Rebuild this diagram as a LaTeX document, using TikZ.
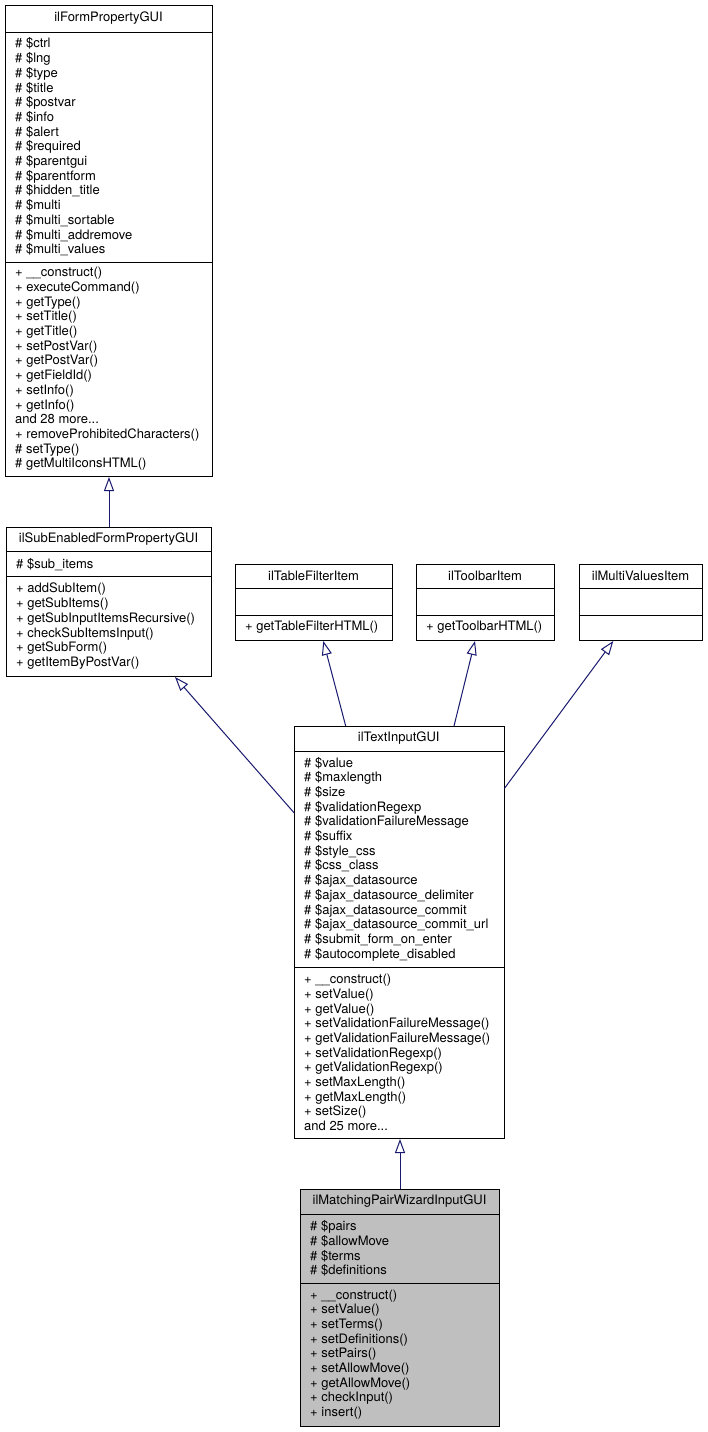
\documentclass[tikz,border=0pt]{standalone}
\usepackage{fontspec}
\setmainfont{TeX Gyre Heros}
\usepackage{tikz}
\usetikzlibrary{arrows.meta,calc,positioning}
\definecolor{edgeblue}{HTML}{191970}
\definecolor{classgray}{HTML}{BFBFBF}
\tikzset{
  classbox/.style={draw=black, line width=1pt, inner sep=0pt, anchor=north west, fill=white},
  sepline/.style={draw=black, line width=1pt},
  classtitle/.style={inner sep=0pt, font=\fontsize{13}{14.7}\selectfont},
  members/.style={inner sep=0pt, anchor=west, align=left, font=\fontsize{13}{14.7}\selectfont},
  inherit/.style={draw=edgeblue, line width=1pt, -{Triangle[open,length=14pt,width=10pt]}},
}

\begin{document}
\begin{tikzpicture}[x=1pt, y=-1pt]
\useasboundingbox[fill=white] (0,0) rectangle (707,1432);

% ilFormPropertyGUI
\node[classbox, minimum width=207pt, minimum height=471pt] (formprop) at (5,5) {};
\draw[sepline] (5,32)--(212,32);
\draw[sepline] (5,262)--(212,262);
\node[classtitle] (formprop-title) at (108.5,18.5) {ilFormPropertyGUI};
\node[members] (formprop-attr) at (15,147) {\# \$ctrl\\\# \$lng\\\# \$type\\\# \$title\\\# \$postvar\\\# \$info\\\# \$alert\\\# \$required\\\# \$parentgui\\\# \$parentform\\\# \$hidden\_title\\\# \$multi\\\# \$multi\_sortable\\\# \$multi\_addremove\\\# \$multi\_values};
\node[members] (formprop-ops) at (15,369) {+ \_\_construct()\\+ executeCommand()\\+ getType()\\+ setTitle()\\+ getTitle()\\+ setPostVar()\\+ getPostVar()\\+ getFieldId()\\+ setInfo()\\+ getInfo()\\and 28 more...\\+ removeProhibitedCharacters()\\\# setType()\\\# getMultiIconsHTML()};

% ilSubEnabledFormPropertyGUI
\node[classbox, minimum width=205pt, minimum height=149pt] (subenabled) at (6,527) {};
\draw[sepline] (6,551.7)--(211,551.7);
\draw[sepline] (6,576.7)--(211,576.7);
\node[classtitle] (subenabled-title) at (108.5,539.3) {ilSubEnabledFormPropertyGUI};
\node[members] (subenabled-attr) at (16,564.2) {\# \$sub\_items};
\node[members] (subenabled-ops) at (16,626.3) {+ addSubItem()\\+ getSubItems()\\+ getSubInputItemsRecursive()\\+ checkSubItemsInput()\\+ getSubForm()\\+ getItemByPostVar()};

% ilTableFilterItem
\node[classbox, minimum width=157pt, minimum height=76pt] (tablefilter) at (235,564) {};
\draw[sepline] (235,588.3)--(392,588.3);
\draw[sepline] (235,615)--(392,615);
\node[classtitle] (tablefilter-title) at (313.5,576) {ilTableFilterItem};
\node[members] (tablefilter-ops) at (245,627.5) {+ getTableFilterHTML()};

% ilToolbarItem
\node[classbox, minimum width=138pt, minimum height=76pt] (toolbar) at (416,564) {};
\draw[sepline] (416,588.3)--(554,588.3);
\draw[sepline] (416,615)--(554,615);
\node[classtitle] (toolbar-title) at (485,576) {ilToolbarItem};
\node[members] (toolbar-ops) at (426,627.5) {+ getToolbarHTML()};

% ilMultiValuesItem
\node[classbox, minimum width=123pt, minimum height=76pt] (multivalues) at (579,564) {};
\draw[sepline] (579,588.3)--(702,588.3);
\draw[sepline] (579,615)--(702,615);
\node[classtitle] (multivalues-title) at (640.5,576) {ilMultiValuesItem};

% ilTextInputGUI
\node[classbox, minimum width=209.5pt, minimum height=412pt] (textinput) at (294,726) {};
\draw[sepline] (294,751)--(503.5,751);
\draw[sepline] (294,967)--(503.5,967);
\node[classtitle] (textinput-title) at (398.75,738.5) {ilTextInputGUI};
\node[members] (textinput-attr) at (304,859) {\# \$value\\\# \$maxlength\\\# \$size\\\# \$validationRegexp\\\# \$validationFailureMessage\\\# \$suffix\\\# \$style\_css\\\# \$css\_class\\\# \$ajax\_datasource\\\# \$ajax\_datasource\_delimiter\\\# \$ajax\_datasource\_commit\\\# \$ajax\_datasource\_commit\_url\\\# \$submit\_form\_on\_enter\\\# \$autocomplete\_disabled};
\node[members] (textinput-ops) at (304,1052.5) {+ \_\_construct()\\+ setValue()\\+ getValue()\\+ setValidationFailureMessage()\\+ getValidationFailureMessage()\\+ setValidationRegexp()\\+ getValidationRegexp()\\+ setMaxLength()\\+ getMaxLength()\\+ setSize()\\and 25 more...};

% ilMatchingPairWizardInputGUI
\node[classbox, fill=classgray, minimum width=199pt, minimum height=237pt] (matching) at (300,1189) {};
\draw[sepline] (300,1214)--(499,1214);
\draw[sepline] (300,1283)--(499,1283);
\node[classtitle] (matching-title) at (399.5,1201.5) {ilMatchingPairWizardInputGUI};
\node[members] (matching-attr) at (310,1248.5) {\# \$pairs\\\# \$allowMove\\\# \$terms\\\# \$definitions};
\node[members] (matching-ops) at (310,1354.5) {+ \_\_construct()\\+ setValue()\\+ setTerms()\\+ setDefinitions()\\+ setPairs()\\+ setAllowMove()\\+ getAllowMove()\\+ checkInput()\\+ insert()};

% inheritance
\draw[inherit] (subenabled.north) -- (subenabled.north |- formprop.south);
\draw[inherit] ($(textinput.north west)+(0,86.7)$) -- ($(subenabled.south west)+(169,0)$);
\draw[inherit] ($(textinput.north west)+(51.7,0)$) -- ($(tablefilter.south west)+(88.3,0)$);
\draw[inherit] ($(textinput.north west)+(160,0)$) -- ($(toolbar.south west)+(59,0)$);
\draw[inherit] ($(textinput.north east)+(0,62.3)$) -- ($(multivalues.south west)+(34.3,0)$);
\draw[inherit] (matching.north) -- (matching.north |- textinput.south);
\end{tikzpicture}
\end{document}
